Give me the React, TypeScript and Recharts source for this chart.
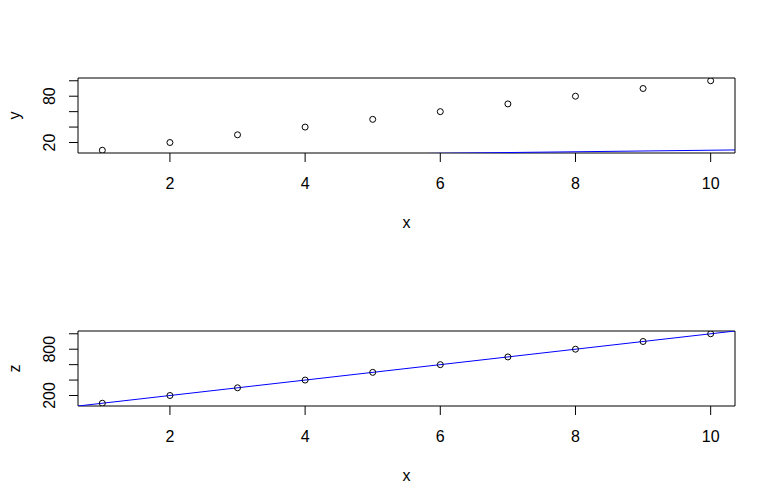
import React from 'react';
import { ComposedChart, Scatter, XAxis, YAxis, ReferenceArea, ReferenceLine, Label } from 'recharts';

// data: y = values of the top panel, z = values of the bottom panel
const xValues = [1, 2, 3, 4, 5, 6, 7, 8, 9, 10];
const yValues = [10, 20, 30, 40, 50, 60, 70, 80, 90, 100];
const zValues = [100, 200, 300, 400, 500, 600, 700, 800, 900, 1000];

const xTicks = [2, 4, 6, 8, 10];
const yTicks = [20, 40, 60, 80, 100];
const yTickLabels = ['20', '', '', '80', ''];
const zTicks = [200, 400, 600, 800, 1000];
const zTickLabels = ['200', '', '', '800', ''];

// abline(a, b) drawn on each panel
const yLine = { a: 0, b: 1 };
const zLine = { a: 0, b: 100 };

const FONT = '"Liberation Sans", Arial, sans-serif';
const FONT_SIZE = 16;
const TICK = 9;

// R pads the data range by 4% on each side
const pad = (vals: number[]): [number, number] => {
  const lo = Math.min(...vals);
  const hi = Math.max(...vals);
  const d = (hi - lo) * 0.04;
  return [lo - d, hi + d];
};

const Dot = (p: any) => (
  <circle cx={p.cx} cy={p.cy} r={3} fill="none" stroke="#000" strokeWidth={1} />
);

const XTick = (p: any) => (
  <text x={p.x} y={p.y + 21} textAnchor="middle" dominantBaseline="central"
    fontFamily={FONT} fontSize={FONT_SIZE} fill="#000">
    {p.payload.value}
  </text>
);

const makeYTick = (ticks: number[], labels: string[]) => (p: any) => {
  const label = labels[ticks.indexOf(p.payload.value)];
  if (!label) return <g />;
  const cx = p.x - 19;
  return (
    <text x={cx} y={p.y} textAnchor="middle" dominantBaseline="central"
      transform={`rotate(-90, ${cx}, ${p.y})`}
      fontFamily={FONT} fontSize={FONT_SIZE} fill="#000">
      {label}
    </text>
  );
};

const XTitle = (p: any) => {
  const vb = p.viewBox;
  return (
    <text x={vb.x + vb.width / 2} y={vb.y + 69} textAnchor="middle" dominantBaseline="central"
      fontFamily={FONT} fontSize={FONT_SIZE} fill="#000">x</text>
  );
};

const makeYTitle = (name: string) => (p: any) => {
  const vb = p.viewBox;
  const cx = 14;
  const cy = vb.y + vb.height / 2;
  return (
    <text x={cx} y={cy} textAnchor="middle" dominantBaseline="central"
      transform={`rotate(-90, ${cx}, ${cy})`}
      fontFamily={FONT} fontSize={FONT_SIZE} fill="#000">{name}</text>
  );
};

interface PanelProps {
  values: number[];
  ticks: number[];
  tickLabels: string[];
  name: string;
  line: { a: number; b: number };
  height: number;
  top: number;
}

function Panel({ values, ticks, tickLabels, name, line, height, top }: PanelProps) {
  const rows = xValues.map((x, i) => ({ x, v: values[i] }));
  const xDom = pad(xValues);
  const yDom = pad(values);
  const plotH = 75;
  return (
    <ComposedChart width={776} height={height} data={rows}
      margin={{ top, right: 41, bottom: 0, left: 0 }}>
      <XAxis type="number" dataKey="x" domain={xDom} allowDataOverflow ticks={xTicks} interval={0}
        axisLine={false} tickSize={TICK} tickMargin={0} tickLine={{ stroke: '#000' }}
        height={height - top - plotH} tick={XTick}>
        <Label content={XTitle} />
      </XAxis>
      <YAxis type="number" dataKey="v" domain={yDom} allowDataOverflow ticks={ticks} interval={0}
        axisLine={false} tickSize={TICK} tickMargin={0} tickLine={{ stroke: '#000' }}
        width={78} tick={makeYTick(ticks, tickLabels)}>
        <Label content={makeYTitle(name)} />
      </YAxis>
      <ReferenceArea x1={xDom[0]} x2={xDom[1]} y1={yDom[0]} y2={yDom[1]}
        fill="none" fillOpacity={0} stroke="#000" strokeWidth={1} strokeOpacity={1} />
      <Scatter dataKey="v" shape={Dot} isAnimationActive={false} />
      <ReferenceLine
        segment={[
          { x: xDom[0], y: line.a + line.b * xDom[0] },
          { x: xDom[1], y: line.a + line.b * xDom[1] },
        ]}
        stroke="#0000ff" strokeWidth={1} ifOverflow="hidden" />
    </ComposedChart>
  );
}

export default function App() {
  return (
    <div style={{ position: 'absolute', left: 0, top: 0, width: 776, height: 503, background: '#fff' }}>
      <Panel values={yValues} ticks={yTicks} tickLabels={yTickLabels} name="y" line={yLine}
        height={252} top={78} />
      <Panel values={zValues} ticks={zTicks} tickLabels={zTickLabels} name="z" line={zLine}
        height={251} top={79} />
    </div>
  );
}
